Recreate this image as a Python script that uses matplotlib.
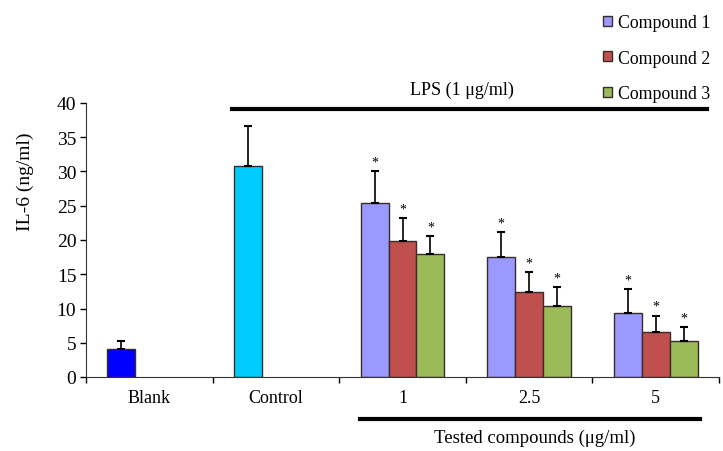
import numpy as np
import matplotlib
matplotlib.use('Agg')
from matplotlib import pyplot as plt
from matplotlib.patches import Patch


categories = ['Blank', 'Control', '1', '2.5', '5']

blank_mean = 4.1
blank_err = 1.1
control_mean = 30.85
control_err = 5.85

series_names = ['Compound 1', 'Compound 2', 'Compound 3']
compound_1 = [25.4, 17.5, 9.4]
compound_1_err = [4.6, 3.6, 3.4]
compound_2 = [19.9, 12.4, 6.5]
compound_2_err = [3.3, 2.9, 2.45]
compound_3 = [17.95, 10.4, 5.2]
compound_3_err = [2.65, 2.7, 2.05]

series_colors = ['#9999FF', '#C0504D', '#9BBB59']


plt.rcParams['font.family'] = ['Liberation Serif', 'DejaVu Serif']

fig = plt.figure(figsize=(7.23, 4.52), dpi=100)
ax = fig.add_axes([86 / 723, 1 - 378 / 452, (719 - 86) / 723, (378 - 104) / 452])

w = 0.221
edge = '#3a2a2a'
err_kw = dict(ecolor='black', elinewidth=1.2, capsize=2.8, capthick=1.5)

x = np.arange(len(categories))

# blank and control sit at the first slot of the group
ax.bar(x[0] - w, blank_mean, w, color='#0000FF', edgecolor=edge, linewidth=1,
       yerr=[[0], [blank_err]], error_kw=err_kw, zorder=2)
ax.bar(x[1] - w, control_mean, w, color='#00CCFF', edgecolor=edge, linewidth=1,
       yerr=[[0], [control_err]], error_kw=err_kw, zorder=2)

xs = x[2:]
all_series = [(compound_1, compound_1_err), (compound_2, compound_2_err), (compound_3, compound_3_err)]
for i, (vals, errs) in enumerate(all_series):
    pos = xs + (i - 1) * w
    ax.bar(pos, vals, w, color=series_colors[i], edgecolor=edge, linewidth=1,
           yerr=[np.zeros(len(errs)), errs], error_kw=err_kw, zorder=2)
    for p, v, e in zip(pos, vals, errs):
        ax.text(p, v + e + 0.4, '*', ha='center', va='bottom', fontsize=10)

ax.set_xlim(-0.5, 4.5)
ax.set_ylim(0, 40)
ax.set_yticks(range(0, 41, 5))
ax.tick_params(axis='y', labelsize=14, direction='out', length=4, width=1, pad=3)
ax.set_xticks(x)
ax.set_xticklabels(categories)
ax.set_xticks(np.arange(-0.5, 4.6, 1), minor=True)
ax.tick_params(axis='x', which='major', length=0, labelsize=13, pad=9)
ax.tick_params(axis='x', which='minor', length=4, width=1, direction='out')

for s in ['top', 'right']:
    ax.spines[s].set_visible(False)
ax.spines['left'].set_color('#333333')
ax.spines['bottom'].set_color('#333333')

fig.text(25 / 723, 1 - 182 / 452, 'IL-6 (ng/ml)', rotation=90, ha='center', va='center', fontsize=14)

# LPS bar
fig.add_artist(plt.Line2D([232 / 723, 707 / 723], [1 - 110 / 452, 1 - 110 / 452], color='black', lw=3))
fig.text(462 / 723, 1 - 90 / 452, 'LPS (1 μg/ml)', ha='center', va='center', fontsize=13)

# tested compounds bar
fig.add_artist(plt.Line2D([360 / 723, 700 / 723], [1 - 420 / 452, 1 - 420 / 452], color='black', lw=3))
fig.text(535 / 723, 1 - 438 / 452, 'Tested compounds (μg/ml)', ha='center', va='center', fontsize=13.5)

handles = [Patch(facecolor=c, edgecolor=edge, linewidth=1) for c in series_colors]
fig.legend(handles, series_names, loc='upper left', bbox_to_anchor=(603 / 723, 1 - 15 / 452),
           frameon=False, fontsize=12.8, handlelength=0.5, handleheight=0.5,
           handletextpad=0.35, labelspacing=1.05, borderaxespad=0, borderpad=0)

plt.savefig('out.png', dpi=100)
